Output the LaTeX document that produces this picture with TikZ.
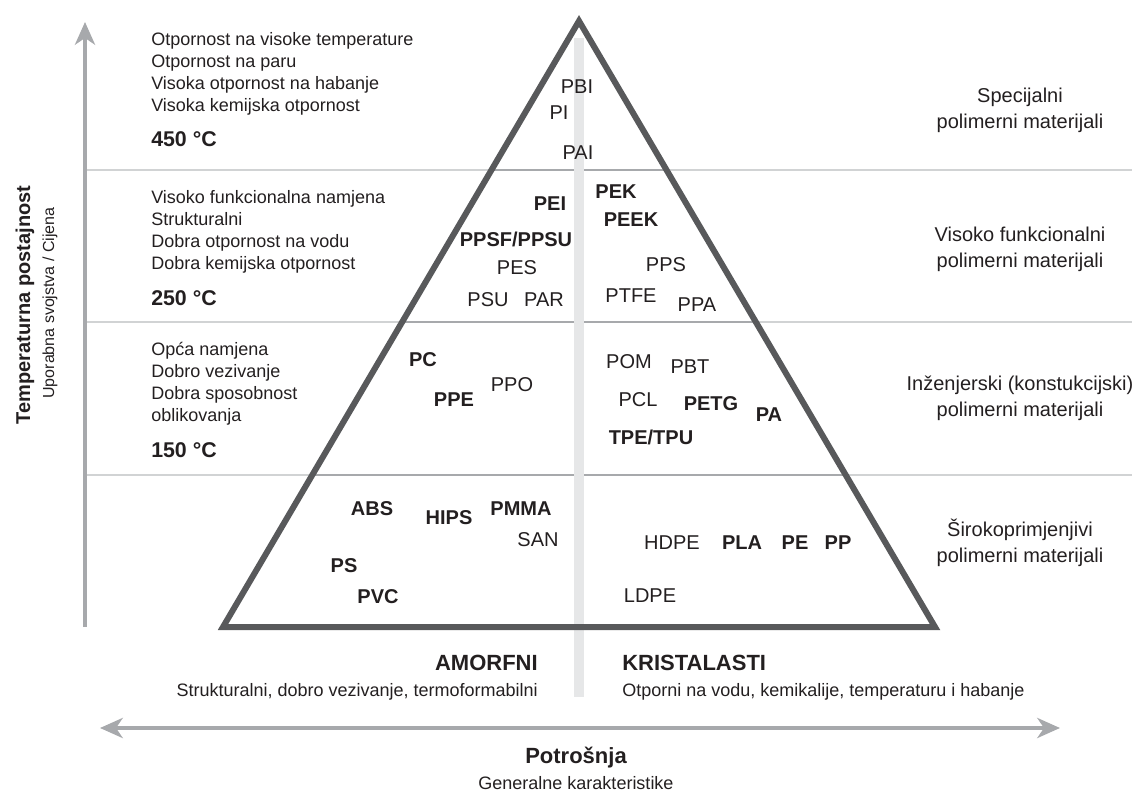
\documentclass[tikz,border=0pt]{standalone}
\usepackage{fontspec}
\setmainfont{Liberation Sans}
\usepackage{tikz}
\usetikzlibrary{arrows.meta,calc}

\definecolor{txtgray}{HTML}{231F20}
\definecolor{edgegray}{HTML}{58595B}
\definecolor{axisgray}{HTML}{A7A9AC}
\definecolor{rulegray}{HTML}{D1D3D4}
\definecolor{innergray}{HTML}{A7A9AC}
\definecolor{bargray}{HTML}{E6E7E8}

\begin{document}
\begin{tikzpicture}[x=0.75pt,y=-0.75pt,
  every node/.style={inner sep=0pt,text=txtgray},
  poly/.style={font=\fontsize{15}{18}\selectfont},
  polyb/.style={font=\fontsize{15}{18}\selectfont\bfseries},
  desc/.style={anchor=west,align=left,font=\fontsize{13.5}{16.5}\selectfont},
  temp/.style={anchor=west,font=\fontsize{16}{19}\selectfont\bfseries},
  group/.style={align=center,font=\fontsize{15}{19.5}\selectfont},
  axisline/.style={line width=3pt,draw=axisgray,arrows={-Stealth[length=17pt,width=15pt,inset=5pt]}},
  rule/.style={line width=1.5pt,draw=rulegray},
  innerrule/.style={line width=2.2pt,draw=innergray}]

\useasboundingbox (0,0) rectangle (1132,791);

\coordinate (Apex) at (579,21);
\coordinate (BaseLeft) at (223,627);
\coordinate (BaseRight) at (935,627);

\foreach \yy/\t in {170/0.2459,322/0.4967,475/0.7492} {
  \draw[rule] (85,\yy) -- (1132,\yy);
  \draw[innerrule] ($(Apex)!\t!(BaseLeft)$) -- ($(Apex)!\t!(BaseRight)$);
}

\fill[bargray] (574,38) rectangle (584,697);

\draw[line width=4.5pt,draw=edgegray,line join=miter] (Apex) -- (BaseRight) -- (BaseLeft) -- cycle;

\coordinate (TempLow) at (85,627);
\coordinate (TempHigh) at (85,22);
\draw[axisline] (TempLow) -- (TempHigh);
\coordinate (UseLeft) at (100,728);
\coordinate (UseRight) at (1060,728);
\draw[axisline,arrows={Stealth[length=17pt,width=15pt,inset=5pt]-Stealth[length=17pt,width=15pt,inset=5pt]}] (UseLeft) -- (UseRight);

\node (TempTitle) at (25,305) [rotate=90,font=\fontsize{15}{18}\selectfont\bfseries] {Temperaturna postajnost};
\node (TempSub) at (50,303) [rotate=90,font=\fontsize{12}{14}\selectfont] {Uporabna svojstva / Cijena};

\node (DescSpecial) at (151,74) [desc] {Otpornost na visoke temperature\\Otpornost na paru\\Visoka otpornost na habanje\\Visoka kemijska otpornost};
\node (Temp450) at (151,139) [temp] {450 °C};
\node (DescHigh) at (151,232) [desc] {Visoko funkcionalna namjena\\Strukturalni\\Dobra otpornost na vodu\\Dobra kemijska otpornost};
\node (Temp250) at (151,298) [temp] {250 °C};
\node (DescEng) at (151,384) [desc] {Opća namjena\\Dobro vezivanje\\Dobra sposobnost\\oblikovanja};
\node (Temp150) at (151,450) [temp] {150 °C};

\node (GroupSpecial) at (1020,110) [group] {Specijalni\\polimerni materijali};
\node (GroupHigh) at (1020,249) [group] {Visoko funkcionalni\\polimerni materijali};
\node (GroupEng) at (1020,398) [group] {Inženjerski (konstukcijski)\\polimerni materijali};
\node (GroupWide) at (1020,543) [group] {Širokoprimjenjivi\\polimerni materijali};

\node (PBI) at (577,87) [poly] {PBI};
\node (PI) at (559,113) [poly] {PI};
\node (PAI) at (578,153) [poly] {PAI};
\node (PEI) at (550,204) [polyb] {PEI};
\node (PPSF) at (516,239) [polyb] {PPSF/PPSU};
\node (PES) at (517,268) [poly] {PES};
\node (PSU) at (488,300) [poly] {PSU};
\node (PAR) at (544,300) [poly] {PAR};
\node (PEK) at (616,192) [polyb] {PEK};
\node (PEEK) at (631,220) [polyb] {PEEK};
\node (PPS) at (666,265) [poly] {PPS};
\node (PTFE) at (631,296) [poly] {PTFE};
\node (PPA) at (697,305) [poly] {PPA};

\node (PC) at (423,360) [polyb] {PC};
\node (PPE) at (454,400) [polyb] {PPE};
\node (PPO) at (512,385) [poly] {PPO};
\node (POM) at (629,362) [poly] {POM};
\node (PBT) at (690,367) [poly] {PBT};
\node (PCL) at (638,400) [poly] {PCL};
\node (PETG) at (711,404) [polyb] {PETG};
\node (PA) at (769,415) [polyb] {PA};
\node (TPE) at (651,437) [polyb] {TPE/TPU};

\node (ABS) at (372,509) [polyb] {ABS};
\node (HIPS) at (449,518) [polyb] {HIPS};
\node (PMMA) at (521,509) [polyb] {PMMA};
\node (SAN) at (538,540) [poly] {SAN};
\node (PS) at (344,566) [polyb] {PS};
\node (PVC) at (378,597) [polyb] {PVC};
\node (HDPE) at (672,543) [poly] {HDPE};
\node (PLA) at (742,543) [polyb] {PLA};
\node (PE) at (795,543) [polyb] {PE};
\node (PP) at (838,543) [polyb] {PP};
\node (LDPE) at (650,596) [poly] {LDPE};

\node (Amorph) at (538,663) [anchor=east,font=\fontsize{16.5}{19}\selectfont\bfseries] {AMORFNI};
\node (AmorphSub) at (538,692) [anchor=east,font=\fontsize{13.5}{16}\selectfont] {Strukturalni, dobro vezivanje, termoformabilni};
\node (Cryst) at (622,663) [anchor=west,font=\fontsize{16.5}{19}\selectfont\bfseries] {KRISTALASTI};
\node (CrystSub) at (622,692) [anchor=west,font=\fontsize{13.5}{16}\selectfont] {Otporni na vodu, kemikalije, temperaturu i habanje};

\node (Usage) at (576,758) [font=\fontsize{16.5}{19}\selectfont\bfseries] {Potrošnja};
\node (UsageSub) at (576,783) [font=\fontsize{13.5}{16}\selectfont] {Generalne karakteristike};

\end{tikzpicture}
\end{document}
